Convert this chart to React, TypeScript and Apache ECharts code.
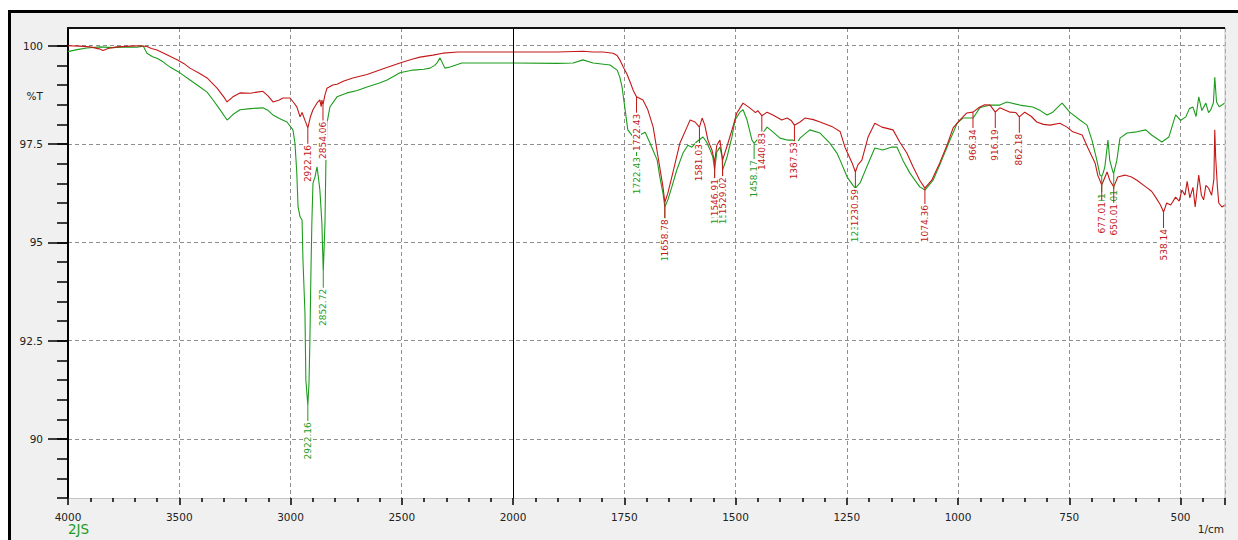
import { useEffect, useRef } from "react";
import * as echarts from "echarts";

// Spectrum of sample 2JS (green) and the reference trace (red): [wavenumber 1/cm, %T]
const redSpectrum: [number, number][] = [
  [4000, 100.0], [3950, 99.99], [3900, 99.97], [3860, 99.92], [3843, 99.88], [3820, 99.93],
  [3780, 99.97], [3720, 99.99], [3680, 100.0], [3645, 99.98], [3625, 99.93], [3600, 99.89],
  [3560, 99.78], [3510, 99.64], [3480, 99.55], [3452, 99.43], [3410, 99.3], [3375, 99.18],
  [3330, 98.92], [3300, 98.7], [3285, 98.57], [3259, 98.7], [3227, 98.8], [3180, 98.79],
  [3150, 98.82], [3124, 98.84], [3100, 98.72], [3079, 98.57], [3050, 98.62], [3034, 98.67],
  [3002, 98.67], [2985, 98.55], [2971, 98.44], [2957, 98.19], [2948, 98.3], [2935, 98.1],
  [2922.16, 97.91], [2910, 98.2], [2899, 98.37], [2880, 98.55], [2868, 98.62], [2862, 98.45],
  [2859, 98.62], [2854.06, 98.5], [2845, 98.75], [2836, 98.92], [2810, 99.0], [2791, 99.02],
  [2760, 99.1], [2720, 99.18], [2656, 99.27], [2580, 99.42], [2508, 99.56], [2450, 99.66],
  [2418, 99.71], [2360, 99.76], [2315, 99.81], [2247, 99.84], [2162, 99.84], [2000, 99.84],
  [1900, 99.84], [1843, 99.86], [1820, 99.84], [1798, 99.84], [1775, 99.81], [1766, 99.75],
  [1760, 99.64], [1752, 99.45], [1744, 99.28], [1736, 99.05], [1730, 98.87], [1722.43, 98.7],
  [1708, 98.62], [1697, 98.37], [1685, 97.93], [1674, 97.17], [1663, 96.41], [1658.78, 96.02],
  [1652, 96.25], [1641, 96.76], [1625, 97.52], [1609, 97.93], [1602, 98.11], [1591, 98.06],
  [1581.03, 97.93], [1575, 98.16], [1569, 97.98], [1562, 97.6], [1553, 97.35], [1546.91, 97.04],
  [1542, 97.47], [1535, 97.6], [1529.02, 97.09], [1517, 97.52], [1506, 97.93], [1497, 98.29],
  [1483, 98.54], [1468, 98.42], [1455, 98.3], [1450, 98.35], [1440.83, 98.22], [1429, 98.31],
  [1416, 98.24], [1396, 98.11], [1384, 98.16], [1375, 98.1], [1367.53, 97.98], [1355, 98.06],
  [1344, 98.16], [1325, 98.12], [1310, 98.06], [1281, 97.93], [1265, 97.82], [1254, 97.42],
  [1238, 97.02], [1230.59, 96.79], [1225, 96.97], [1216, 97.09], [1202, 97.68], [1187, 98.03],
  [1171, 97.93], [1146, 97.86], [1131, 97.55], [1115, 97.27], [1101, 96.92], [1086, 96.58],
  [1074.36, 96.38], [1059, 96.58], [1041, 97.02], [1023, 97.52], [1011, 97.91], [996, 98.11],
  [980, 98.29], [966.34, 98.31], [951, 98.44], [940, 98.5], [928, 98.49], [916.19, 98.31],
  [906, 98.42], [883, 98.31], [870, 98.3], [862.18, 98.19], [850, 98.31], [835, 98.2],
  [823, 98.06], [808, 98.0], [793, 97.98], [771, 98.03], [755, 97.93], [742, 97.81],
  [721, 97.73], [708, 97.4], [692, 97.02], [686, 96.71], [677.01, 96.46], [665, 96.79],
  [659, 96.58], [650.01, 96.41], [641, 96.66], [625, 96.71], [610, 96.66], [598, 96.58],
  [578, 96.41], [565, 96.3], [556, 96.15], [545, 95.95], [538.14, 95.77], [531, 96.0],
  [522, 95.95], [511, 96.15], [503, 96.05], [497, 96.33], [490, 96.2], [485, 96.55],
  [479, 96.13], [472, 96.4], [467, 95.9], [459, 96.71], [453, 96.2], [448, 96.08],
  [443, 96.45], [437, 96.38], [430, 96.2], [425, 96.6], [423, 97.86], [421, 97.17],
  [417, 96.4], [414, 96.0], [407, 95.9], [400, 95.95],
];

const greenSpectrum: [number, number][] = [
  [4000, 99.85], [3960, 99.9], [3915, 99.94], [3856, 99.97], [3800, 99.95], [3740, 99.97],
  [3690, 99.96], [3662, 99.99], [3645, 99.81], [3620, 99.72], [3600, 99.68], [3573, 99.59],
  [3540, 99.45], [3497, 99.31], [3450, 99.12], [3407, 98.95], [3375, 98.82], [3348, 98.62],
  [3320, 98.4], [3285, 98.11], [3259, 98.25], [3227, 98.37], [3180, 98.4], [3124, 98.42],
  [3100, 98.35], [3079, 98.24], [3050, 98.15], [3016, 98.06], [2989, 97.86], [2980, 97.52],
  [2972, 96.8], [2966, 95.9], [2957, 95.65], [2948, 95.57], [2944, 94.55], [2935, 93.2],
  [2931, 91.5], [2922.16, 90.86], [2917, 91.4], [2913, 92.44], [2908, 94.3], [2904, 95.49],
  [2899, 96.51], [2890, 96.66], [2881, 96.92], [2877, 96.76], [2868, 96.33], [2859, 95.49],
  [2852.72, 94.25], [2845, 95.49], [2841, 97.02], [2836, 98.03], [2823, 98.44], [2791, 98.7],
  [2746, 98.8], [2700, 98.86], [2656, 98.95], [2600, 99.05], [2566, 99.13], [2508, 99.31],
  [2450, 99.38], [2400, 99.4], [2373, 99.43], [2352, 99.5], [2342, 99.56], [2328, 99.69],
  [2306, 99.43], [2283, 99.46], [2230, 99.56], [2162, 99.56], [2000, 99.56], [1900, 99.55],
  [1865, 99.56], [1843, 99.64], [1820, 99.56], [1782, 99.51], [1766, 99.38], [1760, 99.2],
  [1755, 98.95], [1748, 98.37], [1742, 97.86], [1730, 97.68], [1722.43, 97.6], [1712, 97.75],
  [1703, 97.8], [1692, 97.52], [1676, 97.09], [1670, 96.66], [1663, 96.25], [1658.78, 95.9],
  [1652, 96.08], [1643, 96.41], [1632, 96.84], [1618, 97.27], [1607, 97.47], [1598, 97.42],
  [1588, 97.55], [1573, 97.68], [1565, 97.55], [1557, 97.35], [1551, 97.17], [1546.91, 96.84],
  [1542, 97.3], [1535, 97.42], [1530, 97.17], [1529.02, 96.84], [1519, 97.17], [1508, 97.68],
  [1501, 98.11], [1490, 98.31], [1483, 98.37], [1474, 98.11], [1463, 97.6], [1458.17, 97.52],
  [1445, 97.68], [1429, 97.93], [1416, 97.81], [1400, 97.65], [1384, 97.6], [1371, 97.6],
  [1362, 97.52], [1355, 97.65], [1333, 97.86], [1310, 97.78], [1288, 97.52], [1272, 97.27],
  [1265, 97.09], [1249, 96.66], [1236, 96.45], [1230.59, 96.38], [1220, 96.51], [1205, 96.92],
  [1187, 97.4], [1169, 97.35], [1150, 97.42], [1137, 97.42], [1124, 97.09], [1108, 96.76],
  [1086, 96.41], [1074.36, 96.33], [1056, 96.58], [1041, 96.97], [1018, 97.6], [1002, 98.03],
  [989, 98.16], [966, 98.16], [951, 98.42], [928, 98.49], [906, 98.49], [890, 98.57],
  [861, 98.49], [832, 98.44], [815, 98.35], [800, 98.24], [787, 98.31], [771, 98.49],
  [766, 98.54], [749, 98.31], [726, 98.11], [710, 97.98], [699, 97.6], [688, 97.09],
  [681, 96.71], [677.01, 96.68], [674, 96.76], [670, 96.92], [663, 97.6], [659, 97.09],
  [652, 96.79], [650.01, 96.76], [643, 97.09], [636, 97.65], [620, 97.78], [598, 97.81],
  [578, 97.86], [565, 97.73], [542, 97.55], [526, 97.68], [511, 98.24], [500, 98.1],
  [488, 98.19], [480, 98.4], [472, 98.44], [465, 98.2], [459, 98.7], [452, 98.35],
  [443, 98.54], [437, 98.3], [432, 98.37], [426, 98.55], [423, 99.2], [419, 98.57],
  [413, 98.45], [407, 98.49], [400, 98.55],
];

// Picked peaks (1/cm)
const redPeaks = [
  2922.16, 2854.06, 1722.43, 1658.78, 1581.03, 1546.91, 1529.02, 1440.83, 1367.53,
  1230.59, 1074.36, 966.34, 916.19, 862.18, 677.01, 650.01, 538.14,
];
const greenPeaks = [
  2922.16, 2852.72, 1722.43, 1658.78, 1546.91, 1529.02, 1458.17, 1230.59, 677.01, 650.01,
];

// Axis ticks
const yMajorTicks = [90, 92.5, 95, 97.5, 100];
const yMinorTicks = [
  88.5, 89, 89.5, 90, 90.5, 91, 91.5, 92, 92.5, 93, 93.5, 94, 94.5, 95, 95.5, 96,
  96.5, 97, 97.5, 98, 98.5, 99, 99.5, 100,
];
const WN_START = 4000;
const WN_BREAK = 2000;
const WN_END = 400;

const RED = "#c41818";
const GREEN = "#1c9c1c";
const FONT = '"DejaVu Sans", Tahoma, sans-serif';

// The wavenumber axis is drawn at double scale below 2000 1/cm.
const toAxis = (wn: number) =>
  wn >= WN_BREAK ? WN_START - wn : WN_START - WN_BREAK + 2 * (WN_BREAK - wn);
const fromAxis = (t: number) =>
  t <= WN_START - WN_BREAK ? WN_START - t : WN_BREAK - (t - (WN_START - WN_BREAK)) / 2;

function valueAt(spec: [number, number][], wn: number) {
  for (let i = 1; i < spec.length; i++) {
    const [w0, v0] = spec[i - 1];
    const [w1, v1] = spec[i];
    if (wn <= w0 && wn >= w1) {
      const f = w0 === w1 ? 0 : (w0 - wn) / (w0 - w1);
      return v0 + (v1 - v0) * f;
    }
  }
  return spec[spec.length - 1][1];
}

const LABEL_GAP = 16;

function peakSeries(peaks: number[], spec: [number, number][], color: string, z: number) {
  return {
    type: "custom",
    coordinateSystem: "cartesian2d",
    z,
    silent: true,
    clip: false,
    encode: { x: 0, y: 1 },
    data: peaks.map((wn) => [toAxis(wn), valueAt(spec, wn)]),
    renderItem: (params: any, api: any) => {
      const p = api.coord([api.value(0), api.value(1)]);
      const text = peaks[params.dataIndex].toFixed(2);
      return {
        type: "group",
        children: [
          {
            type: "line",
            shape: { x1: p[0], y1: p[1], x2: p[0], y2: p[1] + LABEL_GAP },
            style: { stroke: color, lineWidth: 1 },
          },
          {
            type: "text",
            x: p[0],
            y: p[1] + LABEL_GAP,
            rotation: Math.PI / 2,
            style: {
              text,
              fill: color,
              font: `9px ${FONT}`,
              align: "right",
              verticalAlign: "middle",
              lineHeight: 9,
              backgroundColor: "#ffffff",
              padding: [0, 1, 0, 1],
            },
          },
        ],
      };
    },
  };
}

const gridRect = { left: 68, top: 28, right: 13, bottom: 42 };
const dashed = { color: "#8f8f8f", type: [4, 3], width: 1 };

const option: any = {
  animation: false,
  backgroundColor: "#ffffff",
  grid: {
    ...gridRect,
    containLabel: false,
    show: true,
    backgroundColor: "#ffffff",
    borderWidth: 0,
  },
  xAxis: {
    type: "value",
    min: 0,
    max: toAxis(WN_END),
    interval: 500,
    axisLine: { show: true, onZero: false, lineStyle: { color: "#c4c4c4", width: 1 } },
    axisTick: { show: true, length: 7, lineStyle: { color: "#000", width: 1.5 } },
    minorTick: { show: true, splitNumber: 5, length: 4, lineStyle: { color: "#000", width: 1.5 } },
    axisLabel: {
      margin: 13,
      color: "#222",
      fontFamily: FONT,
      fontSize: 10.5,
      showMaxLabel: false,
      formatter: (t: number) => String(Math.round(fromAxis(t))),
    },
    splitLine: { show: true, lineStyle: dashed },
  },
  yAxis: [
    {
      type: "value",
      position: "left",
      min: 88.5,
      max: 100.45,
      axisLine: { show: true, onZero: false, lineStyle: { color: "#000", width: 2 } },
      axisTick: { show: true, length: 20, customValues: yMajorTicks, lineStyle: { color: "#000", width: 1.5 } },
      axisLabel: {
        customValues: yMajorTicks,
        margin: 25,
        color: "#222",
        fontFamily: FONT,
        fontSize: 10.5,
        formatter: (v: number) => String(v),
      },
      splitLine: { show: true, lineStyle: dashed },
    },
    {
      type: "value",
      position: "left",
      min: 88.5,
      max: 100.45,
      axisLine: { show: false, onZero: false },
      axisTick: { show: true, length: 11, customValues: yMinorTicks, lineStyle: { color: "#000", width: 1.5 } },
      axisLabel: { show: false },
      splitLine: { show: false },
    },
  ],
  graphic: [
    { type: "rect", z: -1, silent: true, shape: { x: 8, y: 10, width: 1230, height: 530 }, style: { fill: "#f0f0f0" } },
    { type: "rect", z: 10, silent: true, shape: { x: 8, y: 10, width: 1230, height: 3 }, style: { fill: "#000" } },
    { type: "rect", z: 10, silent: true, shape: { x: 8, y: 10, width: 3, height: 530 }, style: { fill: "#000" } },
    { type: "line", z: 10, silent: true, shape: { x1: 1225, y1: 28, x2: 1225, y2: 498 }, style: { stroke: "#c4c4c4", lineWidth: 1 } },
    { type: "line", z: 10, silent: true, shape: { x1: 67, y1: 28, x2: 1225, y2: 28 }, style: { stroke: "#111", lineWidth: 2 } },
    { type: "text", silent: true, x: 43, y: 96, style: { text: "%T", fill: "#222", font: `10.5px ${FONT}`, align: "right", verticalAlign: "middle" } },
    { type: "text", silent: true, x: 1224, y: 529, style: { text: "1/cm", fill: "#222", font: `10.5px ${FONT}`, align: "right", verticalAlign: "middle" } },
    { type: "text", silent: true, x: 68, y: 529, style: { text: "2JS", fill: GREEN, font: `13.5px ${FONT}`, align: "left", verticalAlign: "middle" } },
  ],
  series: [
    {
      type: "line",
      name: "2JS",
      z: 2,
      silent: true,
      showSymbol: false,
      symbol: "none",
      lineStyle: { color: GREEN, width: 1.1 },
      itemStyle: { color: GREEN },
      data: greenSpectrum.map(([w, v]) => [toAxis(w), v]),
      markLine: {
        silent: true,
        symbol: ["none", "none"],
        label: { show: false },
        lineStyle: { color: "#000", width: 1, type: "solid" },
        data: [{ xAxis: toAxis(WN_BREAK) }],
      },
    },
    {
      type: "line",
      name: "ref",
      z: 3,
      silent: true,
      showSymbol: false,
      symbol: "none",
      lineStyle: { color: RED, width: 1.1 },
      itemStyle: { color: RED },
      data: redSpectrum.map(([w, v]) => [toAxis(w), v]),
    },
    peakSeries(greenPeaks, greenSpectrum, GREEN, 4),
    peakSeries(redPeaks, redSpectrum, RED, 5),
  ],
};

export default function App() {
  const ref = useRef<HTMLDivElement>(null);
  useEffect(() => {
    const chart = echarts.init(ref.current!, undefined, { renderer: "svg" });
    chart.setOption(option);
    return () => chart.dispose();
  }, []);
  return (
    <div
      ref={ref}
      style={{ position: "fixed", left: 0, top: 0, width: 1238, height: 540, background: "#fff" }}
    />
  );
}
